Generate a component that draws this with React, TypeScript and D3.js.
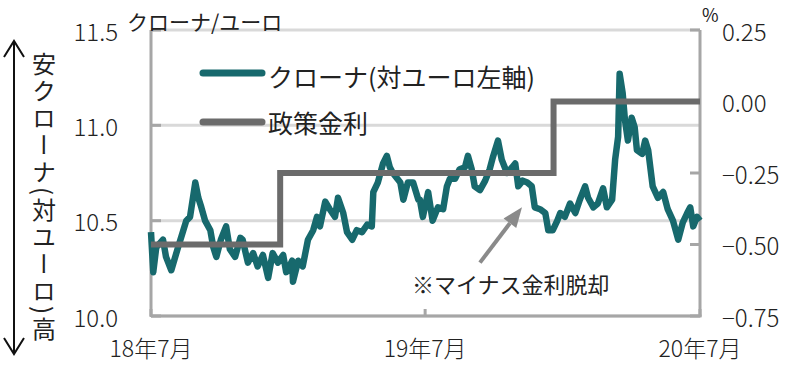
import * as d3 from 'd3'

// SEK per EUR (left axis)
const kronaDates = [
  '2018-07-01', '2018-07-04', '2018-07-08', '2018-07-17', '2018-07-21', '2018-07-28', '2018-08-06', '2018-08-10', '2018-08-17', '2018-08-22',
  '2018-08-29', '2018-09-02', '2018-09-06', '2018-09-11', '2018-09-18', '2018-09-22', '2018-09-26', '2018-10-02', '2018-10-09', '2018-10-14',
  '2018-10-21', '2018-10-28', '2018-10-31', '2018-11-07', '2018-11-14', '2018-11-20', '2018-11-27', '2018-12-04', '2018-12-10', '2018-12-17',
  '2018-12-24', '2018-12-28', '2018-12-30', '2019-01-05', '2019-01-06', '2019-01-13', '2019-01-19', '2019-01-26', '2019-02-02', '2019-02-07',
  '2019-02-11', '2019-02-18', '2019-02-24', '2019-03-03', '2019-03-07', '2019-03-14', '2019-03-19', '2019-03-26', '2019-04-01', '2019-04-08',
  '2019-04-15', '2019-04-21', '2019-04-23', '2019-04-29', '2019-05-06', '2019-05-11', '2019-05-15', '2019-05-19', '2019-05-29', '2019-06-02',
  '2019-06-08', '2019-06-15', '2019-06-22', '2019-06-24', '2019-06-28', '2019-07-05', '2019-07-11', '2019-07-18', '2019-07-25', '2019-07-30',
  '2019-08-03', '2019-08-10', '2019-08-16', '2019-08-23', '2019-08-27', '2019-09-01', '2019-09-05', '2019-09-12', '2019-09-19', '2019-09-25',
  '2019-09-29', '2019-10-06', '2019-10-11', '2019-10-18', '2019-10-25', '2019-10-29', '2019-11-02', '2019-11-08', '2019-11-14', '2019-11-20',
  '2019-11-24', '2019-12-01', '2019-12-08', '2019-12-12', '2019-12-18', '2019-12-24', '2019-12-28', '2020-01-03', '2020-01-10', '2020-01-17',
  '2020-01-23', '2020-01-30', '2020-02-03', '2020-02-10', '2020-02-16', '2020-02-23', '2020-02-28', '2020-03-06', '2020-03-10', '2020-03-14',
  '2020-03-16', '2020-03-20', '2020-03-23', '2020-03-27', '2020-04-01', '2020-04-05', '2020-04-08', '2020-04-15', '2020-04-19', '2020-04-23',
  '2020-04-29', '2020-05-06', '2020-05-13', '2020-05-19', '2020-05-26', '2020-06-02', '2020-06-08', '2020-06-14', '2020-06-18', '2020-06-22',
  '2020-06-27', '2020-07-01',
]
const kronaValues = [
  10.44, 10.23, 10.36, 10.40, 10.31, 10.24, 10.36, 10.41, 10.50, 10.52,
  10.70, 10.62, 10.57, 10.50, 10.45, 10.36, 10.31, 10.40, 10.47, 10.35,
  10.31, 10.41, 10.40, 10.28, 10.33, 10.26, 10.32, 10.20, 10.33, 10.28,
  10.32, 10.23, 10.24, 10.29, 10.18, 10.29, 10.26, 10.40, 10.45, 10.52,
  10.47, 10.60, 10.56, 10.52, 10.62, 10.54, 10.44, 10.40, 10.45, 10.44,
  10.48, 10.47, 10.65, 10.70, 10.80, 10.84, 10.78, 10.75, 10.70, 10.61,
  10.70, 10.70, 10.61, 10.61, 10.52, 10.65, 10.50, 10.57, 10.56, 10.68,
  10.72, 10.72, 10.77, 10.78, 10.84, 10.77, 10.68, 10.66, 10.71, 10.77,
  10.83, 10.92, 10.82, 10.75, 10.78, 10.80, 10.68, 10.71, 10.70, 10.68,
  10.57, 10.56, 10.54, 10.45, 10.45, 10.50, 10.54, 10.52, 10.59, 10.54,
  10.61, 10.68, 10.62, 10.57, 10.59, 10.67, 10.57, 10.61, 10.82, 10.94,
  11.27, 11.17, 11.03, 10.92, 11.04, 10.99, 10.87, 10.85, 10.92, 10.87,
  10.68, 10.62, 10.65, 10.56, 10.50, 10.40, 10.49, 10.54, 10.57, 10.47,
  10.52, 10.50,
]

// Riksbank policy rate, % (right axis)
const policyDates = ['2018-07-01', '2018-12-20', '2019-12-19', '2020-07-01']
const policyValues = [-0.5, -0.25, 0, 0]

const leftTicks = [10.0, 10.5, 11.0, 11.5]
const rightTicks = [-0.75, -0.5, -0.25, 0, 0.25]
const xTickDates = ['2018-07-01', '2019-07-01', '2020-07-01']
const xTickLabels = ['18年7月', '19年7月', '20年7月']

const width = 791
const height = 366
const marginTop = 30
const marginRight = 91
const marginBottom = 50
const marginLeft = 151

const teal = '#17696d'
const rateGray = '#6b6b6b'
const axisGray = '#a6a6a6'
const gridGray = '#d9d9d9'
const font = '"Noto Sans CJK JP", "Noto Sans", sans-serif'

export default function App() {
  const parse = d3.timeParse('%Y-%m-%d')

  const x = d3.scaleTime(
    [parse('2018-07-01'), parse('2020-07-01')],
    [marginLeft, width - marginRight]
  )
  const yL = d3.scaleLinear([10, 11.5], [height - marginBottom, marginTop])
  const yR = d3.scaleLinear([-0.75, 0.25], [height - marginBottom, marginTop])

  const kronaLine = d3
    .line<number>()
    .x((_, i) => x(parse(kronaDates[i])))
    .y((d) => yL(d))

  const policyLine = d3
    .line<number>()
    .x((_, i) => x(parse(policyDates[i])))
    .y((d) => yR(d))
    .curve(d3.curveStepAfter)

  const fmtL = d3.format('.1f')
  const fmtR = d3.format('.2f')

  const x0 = marginLeft
  const x1 = width - marginRight
  const yTop = marginTop
  const yBot = height - marginBottom

  // annotation arrow, in data space
  const tail = [x(parse('2019-09-12')), yL(10.28)]
  const tip = [x(parse('2019-11-07')), yL(10.57)]
  const ang = Math.atan2(tip[1] - tail[1], tip[0] - tail[0])
  const headLen = 20
  const headW = 8
  const hb = [tip[0] - headLen * Math.cos(ang), tip[1] - headLen * Math.sin(ang)]
  const head = [
    tip,
    [hb[0] + headW * Math.sin(ang), hb[1] - headW * Math.cos(ang)],
    [hb[0] - headW * Math.sin(ang), hb[1] + headW * Math.cos(ang)],
  ]

  return (
    <svg
      width={width}
      height={height}
      style={{ position: 'absolute', left: 0, top: 0, background: '#fff' }}
      fontFamily={font}
    >
      {/* grid */}
      {leftTicks.map((t) => (
        <line key={t} x1={x0} x2={x1} y1={yL(t)} y2={yL(t)} stroke={gridGray} strokeWidth={3} />
      ))}
      {/* axes frame */}
      <line x1={x0} x2={x0} y1={yTop} y2={yBot + 1} stroke={axisGray} strokeWidth={3} />
      <line x1={x1} x2={x1} y1={yTop} y2={yBot + 1} stroke={axisGray} strokeWidth={3} />
      <line x1={x0} x2={x1 + 1.5} y1={yBot} y2={yBot} stroke={axisGray} strokeWidth={3} />
      {leftTicks.map((t) => (
        <line key={t} x1={x0} x2={x0 + 10} y1={yL(t)} y2={yL(t)} stroke={axisGray} strokeWidth={3} />
      ))}
      {rightTicks.map((t) => (
        <line key={t} x1={x1 - 10} x2={x1} y1={yR(t)} y2={yR(t)} stroke={axisGray} strokeWidth={3} />
      ))}
      {xTickDates.map((d) => (
        <line key={d} x1={x(parse(d))} x2={x(parse(d))} y1={yBot - 7} y2={yBot} stroke={axisGray} strokeWidth={3} />
      ))}

      {/* series */}
      <path d={kronaLine(kronaValues)} fill="none" stroke={teal} strokeWidth={6.5} strokeLinejoin="round" />
      <path d={policyLine(policyValues)} fill="none" stroke={rateGray} strokeWidth={6} />

      {/* tick labels */}
      <g fontSize={24} fontWeight={300} fill="#222">
        {leftTicks.map((t) => (
          <text key={t} x={118} y={yL(t)} textAnchor="end" dominantBaseline="central">
            {fmtL(t)}
          </text>
        ))}
        {rightTicks.map((t) => (
          <text key={t} x={722} y={yR(t)} textAnchor="start" dominantBaseline="central">
            {fmtR(t)}
          </text>
        ))}
      </g>
      <g fontSize={23} fontWeight={300} fill="#222">
        {xTickDates.map((d, i) => (
          <text key={d} x={x(parse(d))} y={357} textAnchor="middle">
            {xTickLabels[i]}
          </text>
        ))}
      </g>

      {/* units */}
      <text x={127} y={30} fontSize={21} fill="#222">クローナ/ユーロ</text>
      <text x={702} y={22} fontSize={18} fill="#222">%</text>

      {/* legend */}
      <line x1={203} x2={262} y1={73} y2={73} stroke={teal} strokeWidth={7} strokeLinecap="round" />
      <line x1={203} x2={262} y1={122} y2={122} stroke={rateGray} strokeWidth={7} strokeLinecap="round" />
      <text x={268} y={76} fontSize={25} fill="#222" dominantBaseline="central">クローナ(対ユーロ左軸)</text>
      <text x={268} y={122} fontSize={25} fill="#222" dominantBaseline="central">政策金利</text>

      {/* annotation */}
      <line x1={tail[0]} y1={tail[1]} x2={hb[0]} y2={hb[1]} stroke="#8a8a8a" strokeWidth={4} />
      <polygon points={head.map((p) => p.join(',')).join(' ')} fill="#8a8a8a" />
      <text x={412} y={283} fontSize={22} fill="#222" dominantBaseline="central">※マイナス金利脱却</text>

      {/* vertical axis title with arrow */}
      <path d="M14,41 V354 M4,57 L14,41 L24,57 M4,338 L14,354 L24,338" fill="none" stroke="#111" strokeWidth={2} />
      <text
        x={44}
        y={52}
        fontSize={24}
        fill="#222"
        letterSpacing={3}
        style={{ writingMode: 'vertical-rl' }}
      >
        安クローナ(対ユーロ)高
      </text>
    </svg>
  )
}
